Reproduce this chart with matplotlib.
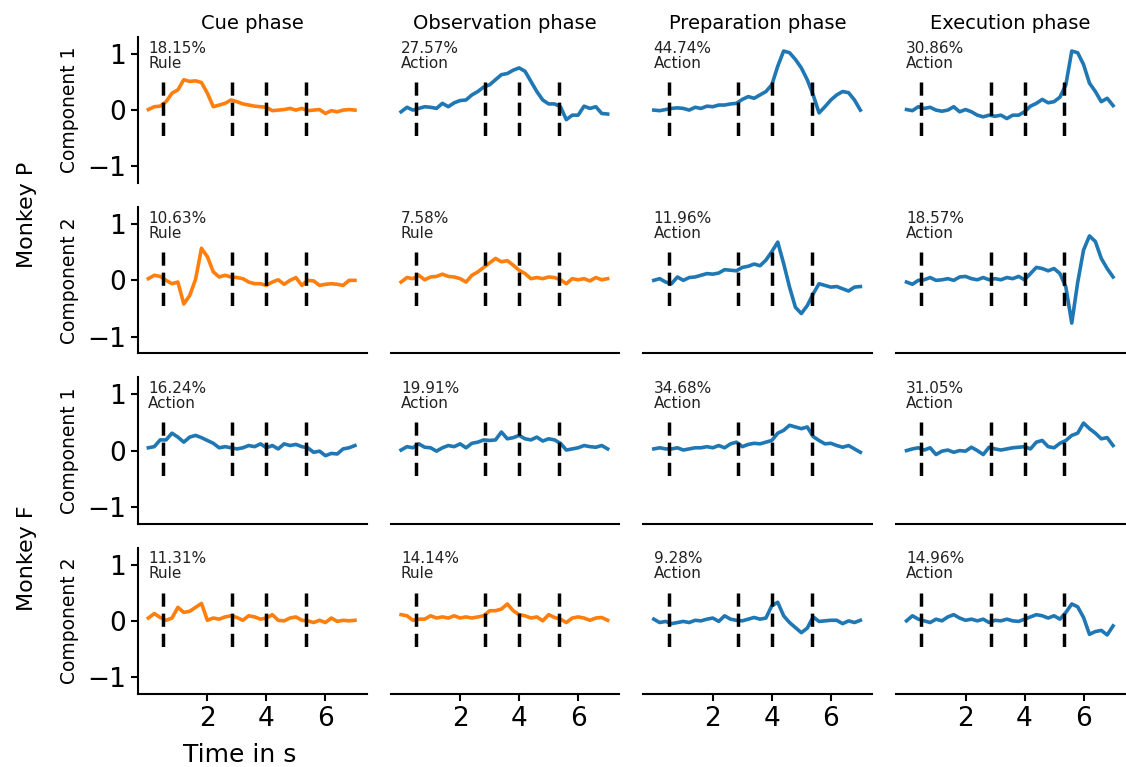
import numpy as np
import matplotlib
matplotlib.use("Agg")
import matplotlib.pyplot as plt

# time axis of the projected components (s), sampled every 0.2 s
time_s = np.round(np.arange(0, 7.01, 0.2), 1)
events = [0.5, 2.85, 4.0, 5.35]

phases = ["Cue phase", "Observation phase", "Preparation phase", "Execution phase"]
monkeys = ["Monkey P", "Monkey F"]

# --- Monkey P, component 1 ---
p1_cue = [0.01, 0.06, 0.07, 0.15, 0.30, 0.36, 0.54, 0.51, 0.52, 0.49, 0.30, 0.06,
          0.09, 0.12, 0.18, 0.15, 0.11, 0.09, 0.07, 0.06, 0.05, -0.01, 0.00, 0.01,
          0.03, 0.00, 0.03, -0.01, 0.00, 0.01, -0.06, -0.01, -0.03, 0.00, 0.01, 0.00]
p1_obs = [-0.03, 0.05, 0.00, 0.03, 0.06, 0.05, 0.03, 0.12, 0.06, 0.13, 0.17, 0.18,
          0.27, 0.33, 0.41, 0.45, 0.54, 0.63, 0.65, 0.71, 0.75, 0.69, 0.51, 0.33,
          0.18, 0.11, 0.11, 0.06, -0.17, -0.09, -0.09, 0.07, 0.03, 0.06, -0.06, -0.07]
p1_prep = [0.00, -0.01, 0.01, 0.03, 0.04, 0.03, 0.00, 0.05, 0.03, 0.07, 0.06, 0.09,
           0.09, 0.11, 0.12, 0.19, 0.24, 0.21, 0.27, 0.33, 0.45, 0.78, 1.05, 1.02,
           0.90, 0.75, 0.54, 0.27, -0.05, 0.06, 0.18, 0.27, 0.33, 0.31, 0.18, 0.00]
p1_exe = [0.01, -0.01, 0.06, 0.03, 0.05, 0.00, -0.02, 0.00, 0.06, -0.03, 0.01, -0.03,
          -0.09, -0.12, -0.09, -0.11, -0.09, -0.15, -0.09, -0.09, -0.03, 0.07, 0.12, 0.19,
          0.13, 0.15, 0.23, 0.45, 1.05, 1.02, 0.81, 0.48, 0.33, 0.15, 0.21, 0.08]

# --- Monkey P, component 2 ---
p2_cue = [0.03, 0.09, 0.07, 0.00, -0.06, -0.03, -0.42, -0.27, 0.02, 0.57, 0.42, 0.15,
          0.06, 0.09, 0.06, 0.05, 0.03, -0.03, -0.06, -0.06, -0.09, -0.03, 0.01, -0.07,
          0.00, 0.05, -0.09, 0.00, -0.01, -0.09, -0.07, -0.06, -0.07, -0.09, 0.00, 0.00]
p2_obs = [-0.03, 0.05, 0.03, 0.09, 0.01, 0.06, 0.07, 0.11, 0.07, 0.06, 0.03, -0.03,
          0.09, 0.15, 0.23, 0.31, 0.39, 0.33, 0.35, 0.27, 0.18, 0.12, 0.03, 0.05,
          0.03, 0.06, 0.05, 0.01, -0.06, 0.03, 0.01, 0.03, -0.01, 0.05, 0.01, 0.03]
p2_prep = [0.00, 0.03, -0.03, -0.06, 0.06, 0.00, 0.05, 0.06, 0.09, 0.12, 0.11, 0.13,
           0.19, 0.18, 0.17, 0.23, 0.25, 0.29, 0.26, 0.36, 0.51, 0.68, 0.30, -0.12,
           -0.48, -0.59, -0.45, -0.24, -0.06, -0.09, -0.12, -0.11, -0.15, -0.19, -0.12, -0.11]
p2_exe = [-0.03, -0.07, 0.00, 0.01, 0.05, 0.00, 0.01, 0.03, 0.00, 0.06, 0.07, 0.03,
          0.01, 0.05, 0.01, 0.03, 0.01, 0.05, 0.03, 0.07, 0.01, 0.12, 0.23, 0.21,
          0.17, 0.21, 0.12, -0.12, -0.76, -0.04, 0.54, 0.79, 0.69, 0.39, 0.21, 0.06]

# --- Monkey F, component 1 ---
f1_cue = [0.05, 0.07, 0.19, 0.19, 0.31, 0.24, 0.15, 0.24, 0.27, 0.23, 0.18, 0.13,
          0.05, 0.07, 0.05, 0.03, 0.05, 0.09, 0.07, 0.12, 0.05, 0.09, 0.03, 0.12,
          0.09, 0.11, 0.07, 0.05, -0.03, -0.01, -0.09, -0.05, -0.06, 0.03, 0.05, 0.09]
f1_obs = [0.01, 0.07, 0.05, 0.12, 0.06, 0.05, -0.01, 0.05, 0.09, 0.07, 0.12, 0.05,
          0.13, 0.15, 0.19, 0.18, 0.19, 0.33, 0.21, 0.23, 0.27, 0.21, 0.19, 0.24,
          0.17, 0.21, 0.19, 0.13, 0.01, 0.03, 0.05, 0.09, 0.07, 0.06, 0.09, 0.03]
f1_prep = [0.03, 0.05, 0.03, 0.03, 0.05, 0.01, 0.03, 0.05, 0.05, 0.07, 0.05, 0.09,
           0.05, 0.12, 0.15, 0.07, 0.11, 0.13, 0.12, 0.15, 0.18, 0.31, 0.36, 0.45,
           0.42, 0.39, 0.42, 0.25, 0.18, 0.12, 0.13, 0.09, 0.06, 0.09, 0.03, -0.03]
f1_exe = [0.00, 0.03, 0.05, 0.01, 0.05, -0.07, -0.01, 0.01, -0.03, 0.00, -0.01, 0.06,
          0.00, -0.07, 0.06, 0.03, 0.01, 0.03, 0.05, 0.06, 0.07, 0.03, 0.15, 0.18,
          0.07, 0.05, 0.13, 0.18, 0.27, 0.31, 0.49, 0.39, 0.31, 0.21, 0.23, 0.09]

# --- Monkey F, component 2 ---
f2_cue = [0.05, 0.13, 0.06, 0.01, 0.05, 0.24, 0.15, 0.17, 0.24, 0.31, 0.01, 0.05,
          0.03, 0.07, 0.09, 0.06, 0.01, 0.09, 0.07, 0.03, 0.05, 0.11, 0.01, 0.00,
          0.05, 0.07, 0.01, 0.00, -0.03, 0.01, -0.03, 0.05, -0.01, 0.01, 0.00, 0.01]
f2_obs = [0.11, 0.09, 0.01, 0.03, 0.03, 0.09, 0.05, 0.07, 0.05, 0.09, 0.05, 0.07,
          0.05, 0.07, 0.09, 0.18, 0.18, 0.21, 0.30, 0.18, 0.11, 0.09, 0.05, 0.07,
          0.00, 0.11, 0.06, 0.03, -0.03, 0.05, 0.07, 0.05, 0.01, 0.05, 0.06, 0.01]
f2_prep = [0.03, -0.03, -0.01, -0.05, -0.03, -0.01, -0.03, 0.01, 0.00, 0.03, 0.05, -0.01,
           0.09, 0.03, 0.01, 0.00, 0.03, 0.06, 0.03, 0.05, 0.27, 0.33, 0.09, -0.03,
           -0.12, -0.21, -0.13, 0.07, -0.01, 0.00, 0.01, 0.01, -0.05, 0.00, -0.03, 0.01]
f2_exe = [0.00, 0.09, 0.03, 0.00, -0.03, 0.03, 0.00, 0.07, 0.11, 0.05, 0.01, 0.03,
          0.00, 0.03, -0.03, 0.01, 0.00, 0.03, 0.00, -0.01, 0.03, 0.07, 0.11, 0.09,
          0.05, 0.09, 0.03, 0.15, 0.30, 0.25, 0.06, -0.24, -0.19, -0.17, -0.25, -0.09]

signals = [
    [p1_cue, p1_obs, p1_prep, p1_exe],
    [p2_cue, p2_obs, p2_prep, p2_exe],
    [f1_cue, f1_obs, f1_prep, f1_exe],
    [f2_cue, f2_obs, f2_prep, f2_exe],
]
explained = [
    ["18.15%", "27.57%", "44.74%", "30.86%"],
    ["10.63%", "7.58%", "11.96%", "18.57%"],
    ["16.24%", "19.91%", "34.68%", "31.05%"],
    ["11.31%", "14.14%", "9.28%", "14.96%"],
]
factor = [
    ["Rule", "Action", "Action", "Action"],
    ["Rule", "Rule", "Action", "Action"],
    ["Action", "Action", "Action", "Action"],
    ["Rule", "Rule", "Action", "Action"],
]
colors = {"Rule": "#ff7f0e", "Action": "#1f77b4"}

fig, axes = plt.subplots(4, 4, figsize=(11.26, 7.67), dpi=100, sharex=True, sharey=True)
fig.subplots_adjust(left=0.1226, right=0.999, top=0.9518, bottom=0.0952,
                    wspace=0.105, hspace=0.164)

for r in range(4):
    for c in range(4):
        ax = axes[r, c]
        lab = factor[r][c]
        ax.plot(time_s, signals[r][c], color=colors[lab], lw=2.6)
        # drawn top-down so the dash pattern starts at the upper end
        ax.vlines(events, 0.5, -0.5, colors="black", linestyles=(0, (3.8, 2.0)),
                  lw=2.5, zorder=3)
        ax.text(0.044, 0.975, explained[r][c] + "\n" + lab, transform=ax.transAxes,
                fontsize=11, va="top", ha="left", color="#222222", linespacing=1.0)
        ax.set_ylim(-1.3, 1.3)
        ax.set_xlim(-0.35, 7.4)
        ax.set_yticks([-1, 0, 1])
        ax.set_xticks([2, 4, 6])
        for s in ["top", "right"]:
            ax.spines[s].set_visible(False)
        for s in ["left", "bottom"]:
            ax.spines[s].set_linewidth(1.5)
        if c > 0:
            ax.spines["left"].set_visible(False)
            ax.tick_params(axis="y", left=False, labelleft=False)
        if r == 0:
            ax.spines["bottom"].set_visible(False)
            ax.set_title(phases[c], fontsize=14)
        if r < 3:
            ax.tick_params(axis="x", bottom=False, labelbottom=False)
        ax.tick_params(labelsize=19, width=1.5, length=5)
    axes[r, 0].set_ylabel("Component %d" % (r % 2 + 1), fontsize=13.5)
    axes[r, 0].yaxis.set_label_coords(-0.26, 0.5)

fig.text(0.024, 0.72, monkeys[0], rotation=90, fontsize=16, ha="center", va="center")
fig.text(0.024, 0.272, monkeys[1], rotation=90, fontsize=16, ha="center", va="center")
fig.text(0.213, 0.007, "Time in s", fontsize=18, ha="center", va="baseline")

fig.savefig("out.png", dpi=100)
